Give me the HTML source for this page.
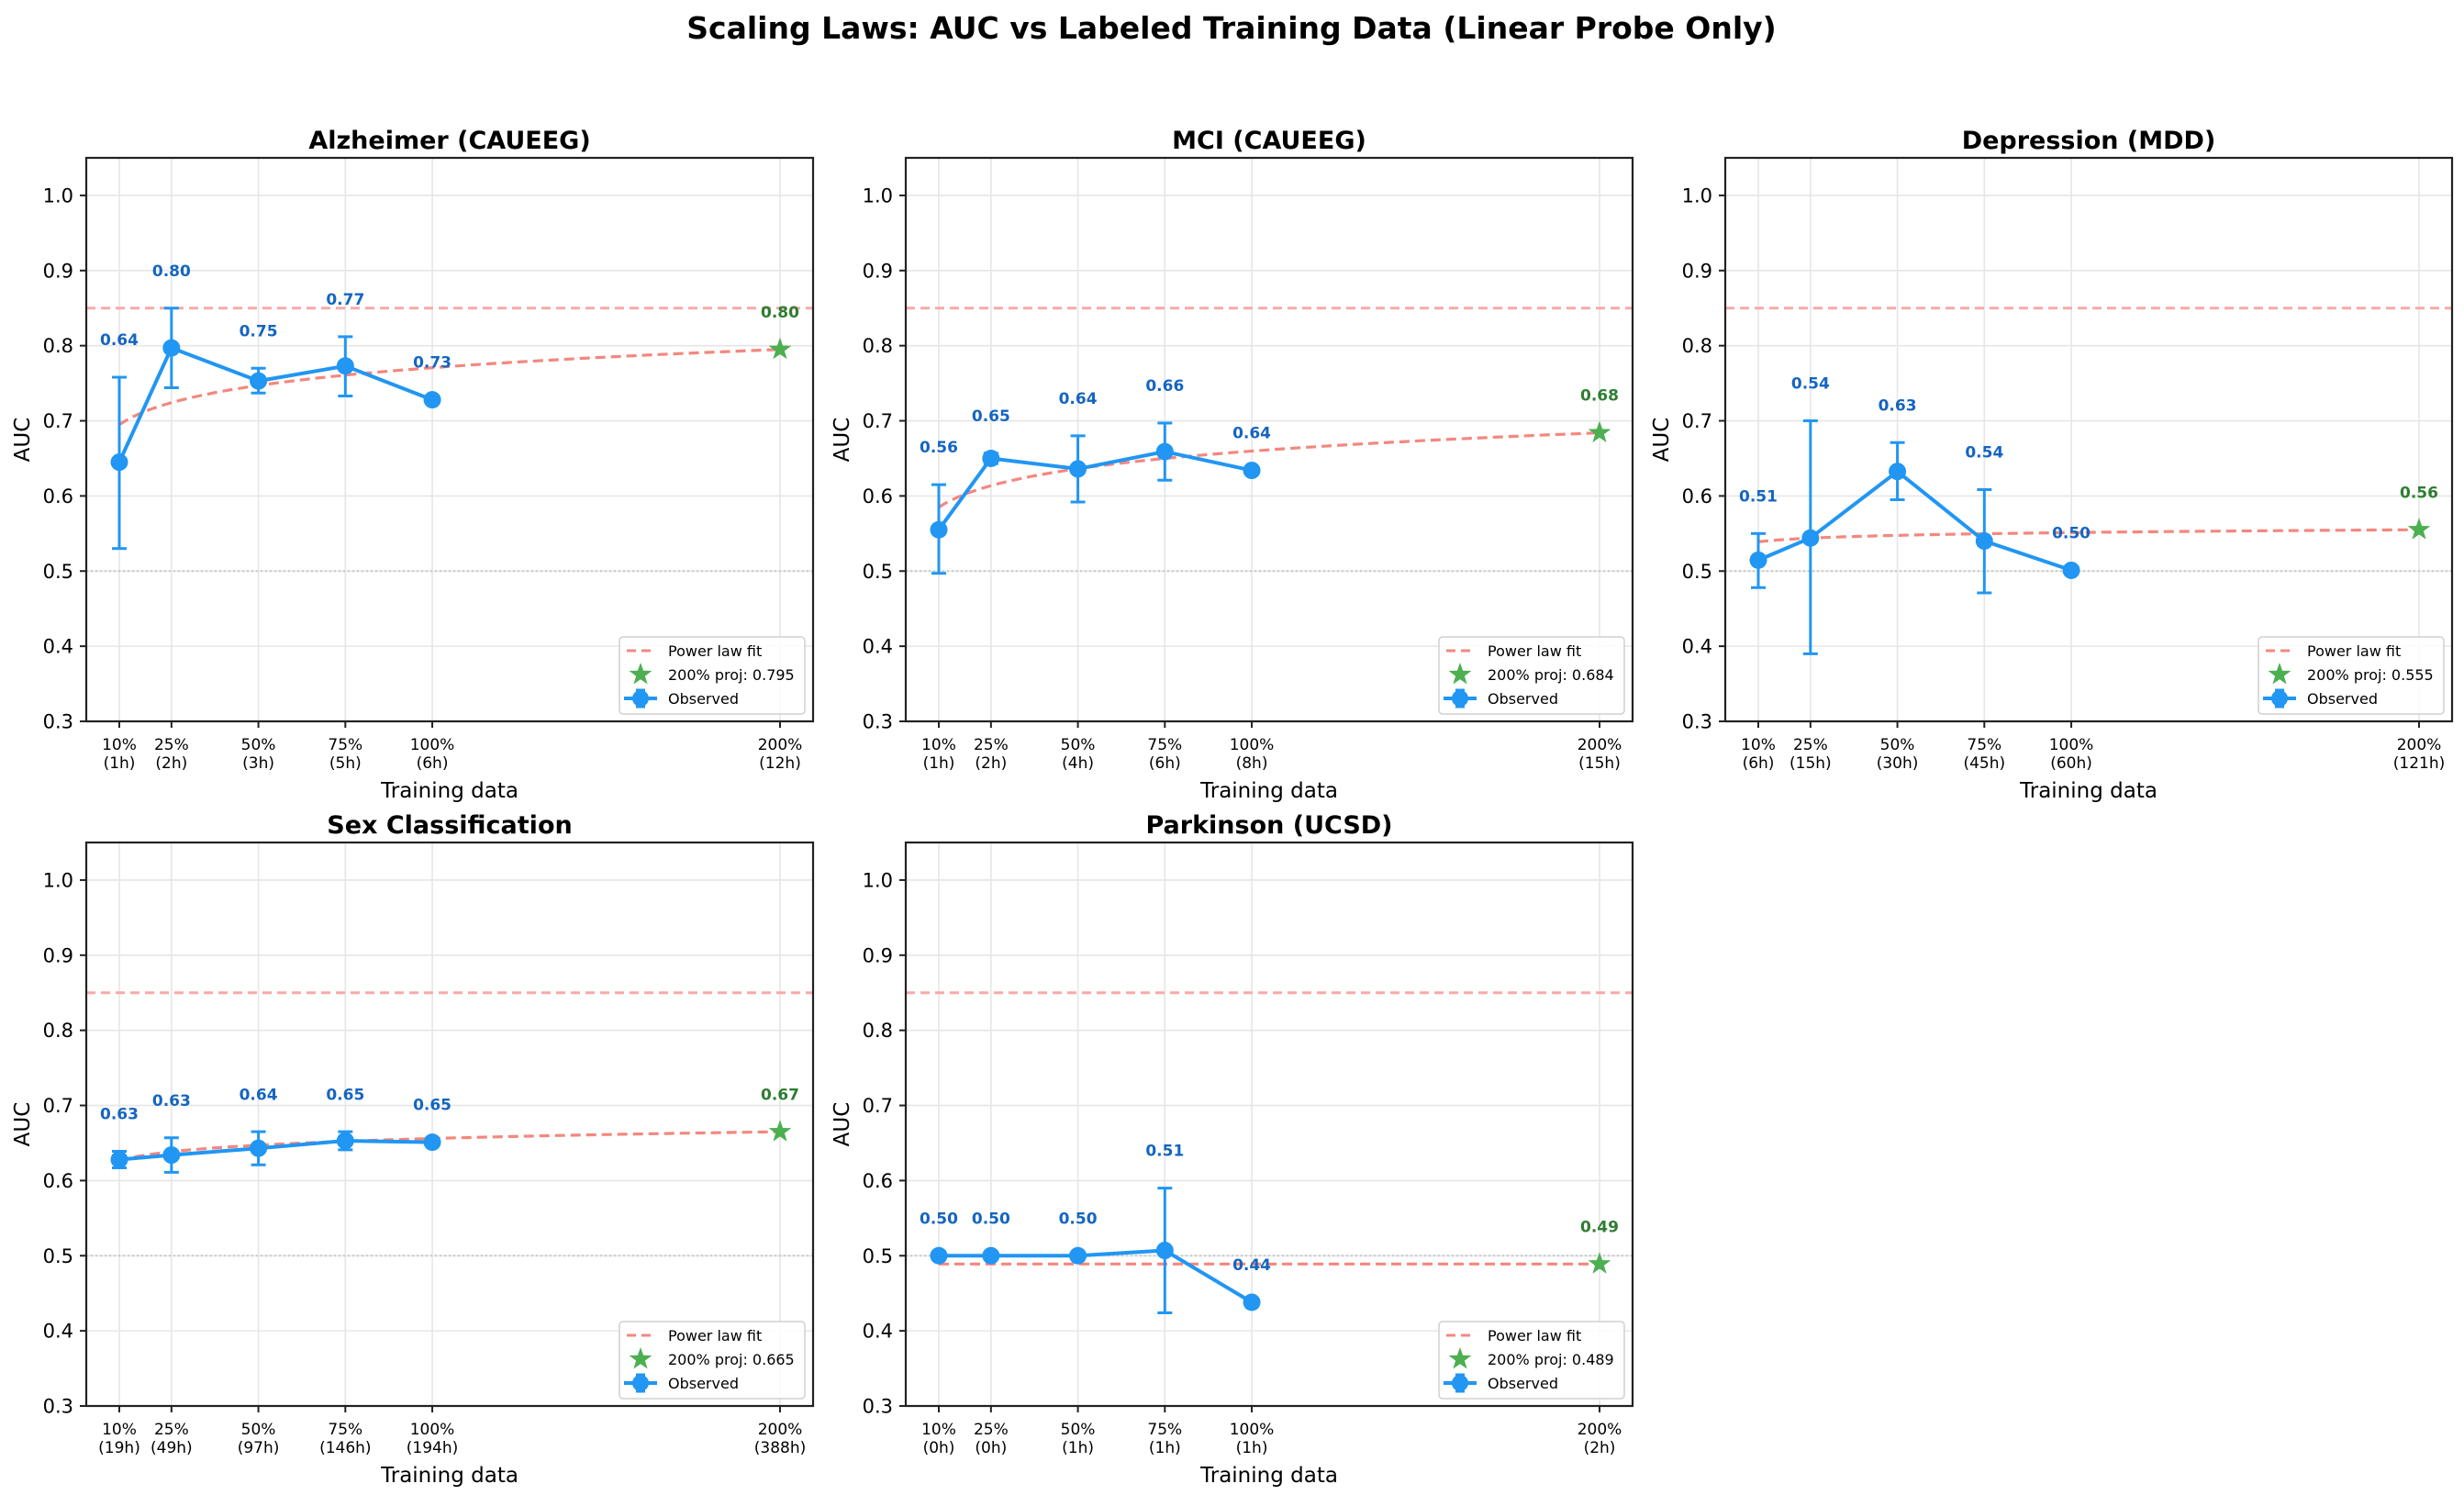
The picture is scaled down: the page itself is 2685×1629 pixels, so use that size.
<!DOCTYPE html>
<html><head><meta charset="utf-8">
<style>
html,body{margin:0;padding:0;background:#fff;}
svg{display:block;font-family:"DejaVu Sans","Liberation Sans",sans-serif;}
</style></head>
<body>
<svg id="s" width="2685" height="1629" xmlns="http://www.w3.org/2000/svg">
<rect width="2685" height="1629" fill="#fff"/>
<text x="1342" y="42" text-anchor="middle" font-size="33" font-weight="bold">Scaling Laws: AUC vs Labeled Training Data (Linear Probe Only)</text>
</svg>
<script>
var S=document.getElementById('s');
var out='';
var W=792,H=614;
var panels=[
 {t:'Alzheimer (CAUEEG)',L:94,T:172,hrs:['1h','2h','3h','5h','6h','12h'],
  p:[[10,0.645,0.530,0.758,'0.64'],[25,0.797,0.744,0.850,'0.80'],[50,0.753,0.737,0.770,'0.75'],[75,0.773,0.733,0.812,'0.77'],[100,0.728,null,null,'0.73']],
  star:0.795,sl:'0.80',leg:'0.795',f10:0.695},
 {t:'MCI (CAUEEG)',L:987,T:172,hrs:['1h','2h','4h','6h','8h','15h'],
  p:[[10,0.555,0.497,0.615,'0.56'],[25,0.650,0.643,0.657,'0.65'],[50,0.636,0.592,0.680,'0.64'],[75,0.659,0.621,0.697,'0.66'],[100,0.634,null,null,'0.64']],
  star:0.684,sl:'0.68',leg:'0.684',f10:0.585},
 {t:'Depression (MDD)',L:1880,T:172,hrs:['6h','15h','30h','45h','60h','121h'],
  p:[[10,0.5145,0.478,0.550,'0.51'],[25,0.544,0.390,0.700,'0.54'],[50,0.6326,0.595,0.671,'0.63'],[75,0.540,0.471,0.6085,'0.54'],[100,0.501,null,null,'0.50']],
  star:0.555,sl:'0.56',leg:'0.555',f10:0.539},
 {t:'Sex Classification',L:94,T:918,hrs:['19h','49h','97h','146h','194h','388h'],
  p:[[10,0.628,0.617,0.639,'0.63'],[25,0.634,0.611,0.657,'0.63'],[50,0.643,0.621,0.665,'0.64'],[75,0.653,0.641,0.665,'0.65'],[100,0.651,null,null,'0.65']],
  star:0.665,sl:'0.67',leg:'0.665',f10:0.627},
 {t:'Parkinson (UCSD)',L:987,T:918,hrs:['0h','0h','1h','1h','1h','2h'],
  p:[[10,0.500,null,null,'0.50'],[25,0.500,null,null,'0.50'],[50,0.500,null,null,'0.50'],[75,0.507,0.424,0.590,'0.51'],[100,0.438,null,null,'0.44']],
  star:0.489,sl:'0.49',leg:'0.489',f10:0.489}
];
var xs=[10,25,50,75,100,200];
function starPath(cx,cy,R){var r=R*0.4,d='';for(var i=0;i<10;i++){var a=-Math.PI/2+i*Math.PI/5,rr=i%2?r:R;d+=(i?'L':'M')+(cx+rr*Math.cos(a)).toFixed(1)+','+(cy+rr*Math.sin(a)).toFixed(1);}return d+'Z';}
panels.forEach(function(P){
 var L=P.L,T=P.T,B=T+H,R=L+W;
 function X(p){return L+(p-0.5)/209*W;}
 function Y(v){return B-(v-0.3)/0.75*H;}
 for(var k=0;k<8;k++){var v=0.3+k*0.1,y=Y(v);out+='<line x1="'+L+'" x2="'+R+'" y1="'+y+'" y2="'+y+'" stroke="#e6e6e6" stroke-width="1.6"/>';}
 xs.forEach(function(p){out+='<line x1="'+X(p)+'" x2="'+X(p)+'" y1="'+T+'" y2="'+B+'" stroke="#e6e6e6" stroke-width="1.6"/>';});
 out+='<line x1="'+L+'" x2="'+R+'" y1="'+Y(0.85)+'" y2="'+Y(0.85)+'" stroke="#f7aaa8" stroke-width="3" stroke-dasharray="10,6"/>';
 out+='<line x1="'+L+'" x2="'+R+'" y1="'+Y(0.5)+'" y2="'+Y(0.5)+'" stroke="#c8c8c8" stroke-width="2" stroke-dasharray="2,3"/>';
 var c=Math.log(P.star/P.f10)/Math.log(20),d='';
 for(var i=0;i<=100;i++){var p=10+i*1.9,v=P.f10*Math.pow(p/10,c);d+=(i?'L':'M')+X(p).toFixed(1)+','+Y(v).toFixed(1);}
 out+='<path d="'+d+'" fill="none" stroke="#f4877f" stroke-width="3.2" stroke-dasharray="11,6"/>';
 P.p.forEach(function(q){if(q[2]!==null){var x=X(q[0]);out+='<line x1="'+x+'" x2="'+x+'" y1="'+Y(q[2])+'" y2="'+Y(q[3])+'" stroke="#2196F3" stroke-width="3"/>';
  out+='<line x1="'+(x-8)+'" x2="'+(x+8)+'" y1="'+Y(q[2])+'" y2="'+Y(q[2])+'" stroke="#2196F3" stroke-width="3"/>';
  out+='<line x1="'+(x-8)+'" x2="'+(x+8)+'" y1="'+Y(q[3])+'" y2="'+Y(q[3])+'" stroke="#2196F3" stroke-width="3"/>';}});
 d='';P.p.forEach(function(q,i){d+=(i?'L':'M')+X(q[0]).toFixed(1)+','+Y(q[1]).toFixed(1);});
 out+='<path d="'+d+'" fill="none" stroke="#2196F3" stroke-width="4" stroke-linejoin="round"/>';
 P.p.forEach(function(q){out+='<circle cx="'+X(q[0])+'" cy="'+Y(q[1])+'" r="9.5" fill="#2196F3"/>';
  var top=(q[3]!==null?q[3]:q[1])+0.05;
  out+='<text x="'+X(q[0])+'" y="'+(Y(top)+6)+'" text-anchor="middle" font-size="17" font-weight="bold" fill="#1565C0">'+q[4]+'</text>';});
 out+='<path d="'+starPath(X(200),Y(P.star),13)+'" fill="#4CAF50"/>';
 out+='<text x="'+X(200)+'" y="'+(Y(P.star+0.05)+6)+'" text-anchor="middle" font-size="17" font-weight="bold" fill="#2E7D32">'+P.sl+'</text>';
 out+='<rect x="'+L+'" y="'+T+'" width="'+W+'" height="'+H+'" fill="none" stroke="#222" stroke-width="2.2"/>';
 for(var k=0;k<8;k++){var v=0.3+k*0.1,y=Y(v);out+='<line x1="'+(L-7)+'" x2="'+L+'" y1="'+y+'" y2="'+y+'" stroke="#222" stroke-width="2"/>';
  out+='<text x="'+(L-14)+'" y="'+(y+7.5)+'" text-anchor="end" font-size="21">'+v.toFixed(1)+'</text>';}
 xs.forEach(function(p,i){var x=X(p);out+='<line x1="'+x+'" x2="'+x+'" y1="'+B+'" y2="'+(B+7)+'" stroke="#222" stroke-width="2"/>';
  out+='<text x="'+x+'" y="'+(B+31)+'" text-anchor="middle" font-size="17">'+p+'%</text>';
  out+='<text x="'+x+'" y="'+(B+51)+'" text-anchor="middle" font-size="17">('+P.hrs[i]+')</text>';});
 out+='<text x="'+(L+W/2)+'" y="'+(B+83)+'" text-anchor="middle" font-size="23">Training data</text>';
 out+='<text transform="translate('+(L-62)+','+(T+H/2)+') rotate(-90)" text-anchor="middle" font-size="23">AUC</text>';
 out+='<text x="'+(L+W/2)+'" y="'+(T-10)+'" text-anchor="middle" font-size="27" font-weight="bold">'+P.t+'</text>';
 var lx=R-9-202,ly=B-8-84;
 out+='<rect x="'+lx+'" y="'+ly+'" width="202" height="84" rx="4" fill="#fff" fill-opacity="0.85" stroke="#d0d0d0" stroke-width="1.5"/>';
 out+='<line x1="'+(lx+8)+'" x2="'+(lx+38)+'" y1="'+(ly+15)+'" y2="'+(ly+15)+'" stroke="#f4877f" stroke-width="3" stroke-dasharray="10,6"/>';
 out+='<text x="'+(lx+53)+'" y="'+(ly+21)+'" font-size="16">Power law fit</text>';
 out+='<path d="'+starPath(lx+23,ly+41,13)+'" fill="#4CAF50"/>';
 out+='<text x="'+(lx+53)+'" y="'+(ly+47)+'" font-size="16">200% proj: '+P.leg+'</text>';
 out+='<line x1="'+(lx+5)+'" x2="'+(lx+41)+'" y1="'+(ly+67)+'" y2="'+(ly+67)+'" stroke="#2196F3" stroke-width="4"/>';
 out+='<line x1="'+(lx+23)+'" x2="'+(lx+23)+'" y1="'+(ly+58)+'" y2="'+(ly+76)+'" stroke="#2196F3" stroke-width="3"/>';
 out+='<line x1="'+(lx+18)+'" x2="'+(lx+28)+'" y1="'+(ly+58)+'" y2="'+(ly+58)+'" stroke="#2196F3" stroke-width="3"/>';
 out+='<line x1="'+(lx+18)+'" x2="'+(lx+28)+'" y1="'+(ly+76)+'" y2="'+(ly+76)+'" stroke="#2196F3" stroke-width="3"/>';
 out+='<circle cx="'+(lx+23)+'" cy="'+(ly+67)+'" r="9" fill="#2196F3"/>';
 out+='<text x="'+(lx+53)+'" y="'+(ly+73)+'" font-size="16">Observed</text>';
});
S.insertAdjacentHTML('beforeend',out);
</script>
</body></html>
